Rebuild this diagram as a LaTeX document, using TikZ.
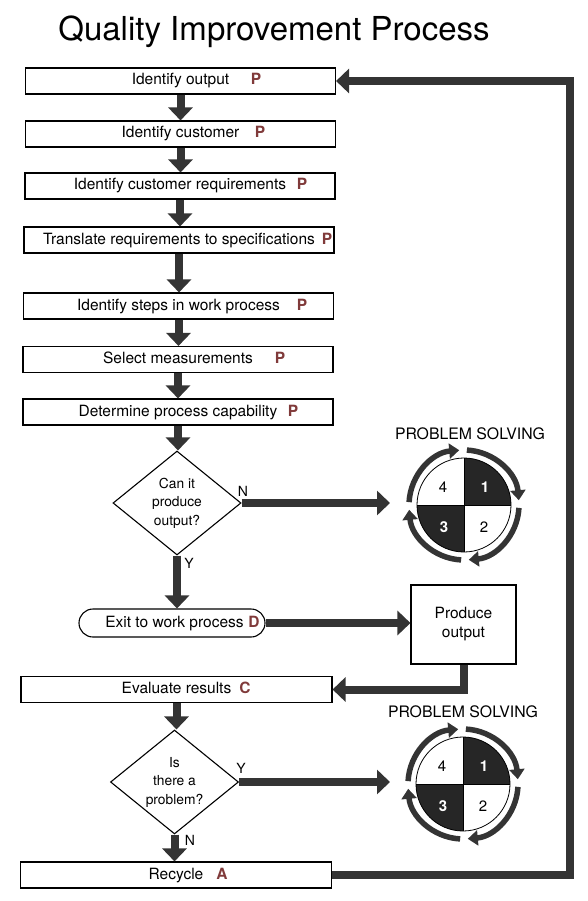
\documentclass[tikz,border=0pt]{standalone}
\usepackage{fontspec}
\setmainfont{TeX Gyre Heros}
\usetikzlibrary{arrows.meta, positioning, shapes.geometric}

\definecolor{flowgray}{RGB}{52,52,52}
\definecolor{pdcared}{RGB}{128,58,58}
\definecolor{wheeldark}{RGB}{38,38,38}

\begin{document}
\begin{tikzpicture}[x=1pt, y=1pt,
        task/.style={draw, line width=1.1pt, fill=white, minimum width=310pt,
                     minimum height=26pt, inner sep=0pt, text height=11pt,
                     text depth=3pt, font=\fontsize{15.5}{18}\selectfont},
        decide/.style={diamond, draw, line width=1.1pt, aspect=1.23,
                       minimum width=128pt, minimum height=104pt, inner sep=0pt,
                       align=center, font=\fontsize{13.8}{18.5}\selectfont},
        pdca/.style={inner sep=0pt, text height=11pt, text depth=3pt,
                     text=pdcared, font=\bfseries\fontsize{15.5}{18}\selectfont},
        yn/.style={inner sep=0pt, font=\fontsize{14}{16}\selectfont},
        pslab/.style={inner sep=0pt, font=\fontsize{15.8}{18}\selectfont},
        wnum/.style={inner sep=0pt, font=\fontsize{15}{18}\selectfont},
        flow/.style={line width=8pt, draw=flowgray,
                     -{Triangle[width=24pt, length=13pt]}},
        turn/.style={line width=5.5pt, draw=flowgray,
                     -{Triangle[width=15pt, length=10pt]}}]
  % title
  \node[anchor=base, inner sep=0pt, font=\fontsize{33}{38}\selectfont] (title)
    at (274,-41) {Quality Improvement Process};
  \useasboundingbox (0,0) rectangle (587,-901);

  % planning steps
  \node[task] (b1) at (180.5,-81) {Identify output};
  \node[task] (b2) at (180.5,-134) {Identify customer};
  \node[task] (b3) at (180,-186) {Identify customer requirements};
  \node[task] (b4) at (179,-240) {Translate requirements to specifications};
  \node[task] (b5) at (178.5,-306) {Identify steps in work process};
  \node[task] (b6) at (178,-359.5) {Select measurements};
  \node[task] (b7) at (178,-412) {Determine process capability};
  \node[pdca] (l1) at (256,-81) {P};
  \node[pdca] (l2) at (260,-134) {P};
  \node[pdca] (l3) at (302,-186) {P};
  \node[pdca] (l4) at (327,-240) {P};
  \node[pdca] (l5) at (302,-306) {P};
  \node[pdca] (l6) at (280,-359.5) {P};
  \node[pdca] (l7) at (293,-412) {P};

  \node[decide] (q1) at (177,-503) {Can it\\produce\\output?};
  \node[yn] (n1) at (243,-491) {N};
  \node[yn] (y1) at (189,-563) {Y};

  \node[draw, line width=1.1pt, rounded corners=14pt, minimum width=186pt,
        minimum height=28pt, inner sep=0pt, text height=11pt, text depth=3pt,
        font=\fontsize{15.5}{18}\selectfont] (exit) at (172,-623)
    {\hspace*{5pt}Exit to work process\hspace*{0pt}};
  \node[pdca] (lD) at (254,-623) {D};
  \node[draw, line width=1.1pt, minimum width=105pt, minimum height=79pt,
        align=center, font=\fontsize{15.5}{19}\selectfont] (prod)
    at (463.5,-624.5) {Produce\\output};

  \node[task, minimum width=311pt] (eval) at (176.5,-689.5) {Evaluate results};
  \node[pdca] (lC) at (245,-689.5) {C};
  \node[decide] (q2) at (174.5,-782) {Is\\there a\\problem?};
  \node[yn] (y2) at (241,-768) {Y};
  \node[yn] (n2) at (190,-840) {N};
  \node[task, minimum width=311pt] (recyc) at (176,-875) {Recycle};
  \node[pdca] (lA) at (222,-875) {A};

  % problem solving wheels
  \coordinate (wA) at (464,-505);
  \coordinate (wB) at (463,-784);
  \node[pslab] (psA) at (470,-434) {PROBLEM SOLVING};
  \node[pslab] (psB) at (463,-712) {PROBLEM SOLVING};
  \foreach \w in {wA, wB} {
    \begin{scope}[shift={(\w)}]
      \fill[wheeldark] (0,0) -- (0:47) arc[start angle=0, end angle=90, radius=47] -- cycle;
      \fill[wheeldark] (0,0) -- (180:47) arc[start angle=180, end angle=270, radius=47] -- cycle;
      \draw[line width=0.8pt] (0,0) circle[radius=47];
      \draw[line width=0.8pt] (-47,0) -- (47,0) (0,-47) -- (0,47);
      \foreach \a in {0,90,180,270}
        \draw[turn] (\a+87:55) arc[start angle=\a+87, end angle=\a+5, radius=55];
      \node[wnum, text=white, font=\bfseries\fontsize{15}{18}\selectfont] (\w-1) at (21,18) {1};
      \node[wnum] (\w-2) at (20,-22) {2};
      \node[wnum, text=white, font=\bfseries\fontsize{15}{18}\selectfont] (\w-3) at (-20,-22) {3};
      \node[wnum] (\w-4) at (-21,18) {4};
    \end{scope}
  }
  \coordinate (inA) at (390,-503);
  \coordinate (inB) at (390,-782);
  \coordinate (loop) at (570,-480);

  % connectors
  \foreach \a/\b in {b1/b2, b2/b3, b3/b4, b4/b5, b5/b6, b6/b7, b7/q1, eval/q2, q2/recyc}
    \draw[flow] (\a.south) -- (\a.south |- \b.north);
  \draw[flow] (q1.east) -- (inA);
  \draw[flow] (q1.south) -- (q1.south |- exit.north);
  \draw[flow] (exit.east) -- (exit.east -| prod.west);
  \draw[flow] (prod.south) |- (eval.east);
  \draw[flow] (q2.east) -- (inB);
  \draw[flow] (recyc.east) -| (loop) |- (b1.east);
\end{tikzpicture}
\end{document}
